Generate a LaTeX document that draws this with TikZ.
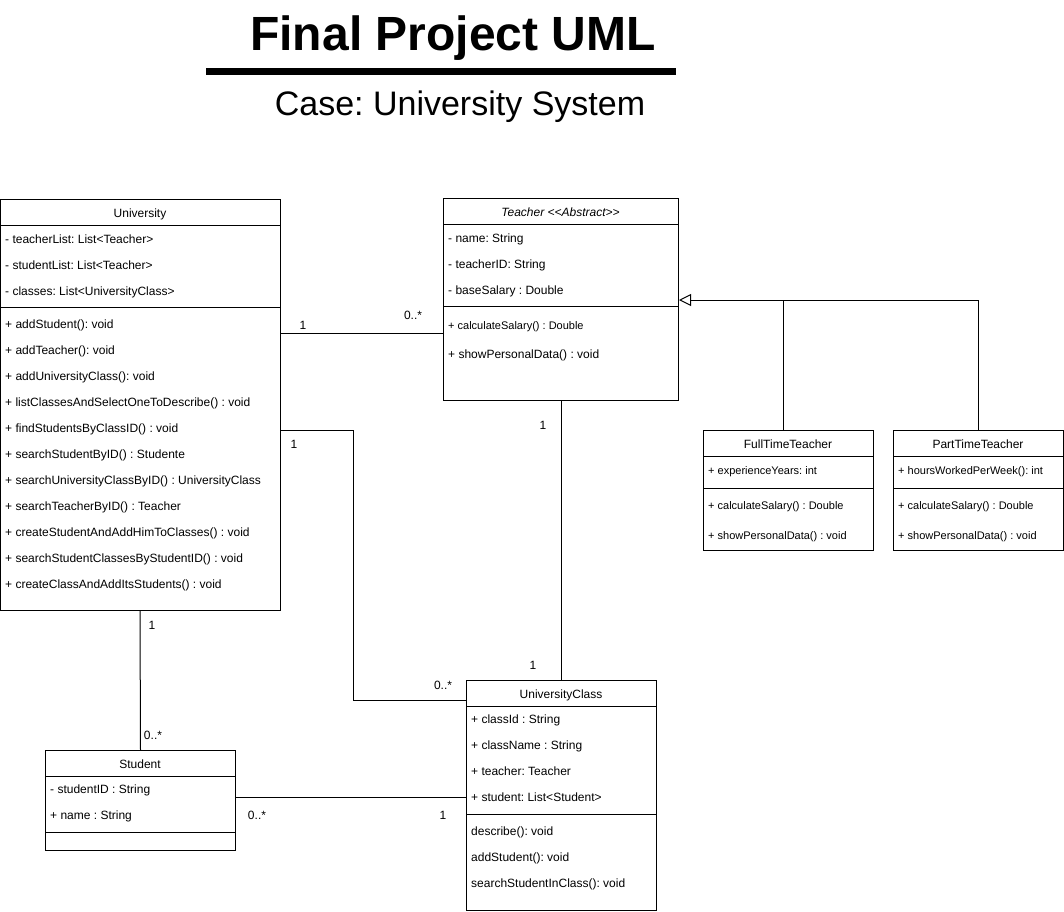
\documentclass[tikz,border=0pt]{standalone}
\usepackage{fontspec}
\setmainfont{Liberation Sans}
\usetikzlibrary{arrows.meta}
\newcommand\myfs[1]{\fontsize{#1}{#1}\selectfont}
\frenchspacing
\begin{document}
\begin{tikzpicture}[x=1pt,y=-1pt,
  box/.style={draw, line width=1pt, anchor=north west, inner sep=0pt},
  sep/.style={line width=1pt},
  mem/.style={anchor=base west, inner sep=0pt, font=\myfs{12}},
  memsm/.style={anchor=base west, inner sep=0pt, font=\myfs{11}},
  hdr/.style={anchor=base, inner sep=0pt, font=\myfs{12}},
  lbl/.style={anchor=base, inner sep=0pt, font=\myfs{12}},
  conn/.style={line width=1pt}]
\useasboundingbox (0,0) rectangle (1064,911);
\fill[white] (0,0) rectangle (1064,911);

% Title
\node[anchor=base, inner sep=0pt, font=\myfs{48}\bfseries] (title) at (453,50) {Final Project UML};
\draw[line width=7pt] (206,71) -- (676,71);
\node[anchor=base, inner sep=0pt, font=\myfs{34}] (subtitle) at (460,115) {Case: University System};

% University
\node[box, minimum width=280, minimum height=411] (univ) at (0,199) {};
\draw[sep] (0,225) -- (280,225);
\draw[sep] (0,307) -- (280,307);
\node[hdr] (univh) at (140,217) {University};
\node[mem] (u1) at (5,243) {- teacherList: List<Teacher>};
\node[mem] (u2) at (5,269) {- studentList: List<Teacher>};
\node[mem] (u3) at (5,295) {- classes: List<UniversityClass>};
\node[mem] (u4) at (5,328) {+ addStudent(): void};
\node[mem] (u5) at (5,354) {+ addTeacher(): void};
\node[mem] (u6) at (5,380) {+ addUniversityClass(): void};
\node[mem] (u7) at (5,406) {+ listClassesAndSelectOneToDescribe() : void};
\node[mem] (u8) at (5,432) {+ findStudentsByClassID() : void};
\node[mem] (u9) at (5,458) {+ searchStudentByID() : Studente};
\node[mem] (u10) at (5,484) {+ searchUniversityClassByID() : UniversityClass};
\node[mem] (u11) at (5,510) {+ searchTeacherByID() : Teacher};
\node[mem] (u12) at (5,536) {+ createStudentAndAddHimToClasses() : void};
\node[mem] (u13) at (5,562) {+ searchStudentClassesByStudentID() : void};
\node[mem] (u14) at (5,588) {+ createClassAndAddItsStudents() : void};

% Teacher
\node[box, minimum width=235, minimum height=202] (teach) at (443,198) {};
\draw[sep] (443,224) -- (678,224);
\draw[sep] (443,306) -- (678,306);
\node[hdr, font=\myfs{12}\itshape] (teachh) at (560.5,216) {Teacher <{}<Abstract>{}>};
\node[mem] (t1) at (448,242) {- name: String};
\node[mem] (t2) at (448,268) {- teacherID: String};
\node[mem] (t3) at (448,294) {- baseSalary : Double};
\node[memsm] (t4) at (448,329) {+ calculateSalary() : Double};
\node[mem] (t5) at (448,358) {+ showPersonalData() : void};

% FullTimeTeacher
\node[box, minimum width=170, minimum height=120] (ftt) at (703,430) {};
\draw[sep] (703,456) -- (873,456);
\draw[sep] (703,488) -- (873,488);
\node[hdr] (ftth) at (788,448) {FullTimeTeacher};
\node[memsm] (f1) at (708,474) {+ experienceYears: int};
\node[memsm] (f2) at (708,509) {+ calculateSalary() : Double};
\node[memsm] (f3) at (708,539) {+ showPersonalData() : void};

% PartTimeTeacher
\node[box, minimum width=170, minimum height=120] (ptt) at (893,430) {};
\draw[sep] (893,456) -- (1063,456);
\draw[sep] (893,488) -- (1063,488);
\node[hdr] (ptth) at (978,448) {PartTimeTeacher};
\node[memsm] (p1) at (898,474) {+ hoursWorkedPerWeek(): int};
\node[memsm] (p2) at (898,509) {+ calculateSalary() : Double};
\node[memsm] (p3) at (898,539) {+ showPersonalData() : void};

% UniversityClass
\node[box, minimum width=190, minimum height=230] (uc) at (466,680) {};
\draw[sep] (466,706) -- (656,706);
\draw[sep] (466,814) -- (656,814);
\node[hdr] (uch) at (561,698) {UniversityClass};
\node[mem] (c1) at (471,723) {+ classId : String};
\node[mem] (c2) at (471,749) {+ className : String};
\node[mem] (c3) at (471,775) {+ teacher: Teacher};
\node[mem] (c4) at (471,801) {+ student: List<Student>};
\node[mem] (c5) at (471,835) {describe(): void};
\node[mem] (c6) at (471,861) {addStudent(): void};
\node[mem] (c7) at (471,887) {searchStudentInClass(): void};

% Student
\node[box, minimum width=190, minimum height=100] (stu) at (45,750) {};
\draw[sep] (45,776) -- (235,776);
\draw[sep] (45,832) -- (235,832);
\node[hdr] (stuh) at (140,768) {Student};
\node[mem] (s1) at (50,793) {- studentID : String};
\node[mem] (s2) at (50,819) {+ name : String};

% Connectors
\coordinate (genj) at (783,300);
\draw[conn] (univ.east |- 0,333) -- (teach.west |- 0,333);
\node[lbl] (l1) at (303,329) {1};
\node[lbl] (l2) at (413,319) {0..*};

\draw[conn, -{Triangle[open, length=12pt, width=12pt]}] (genj |- ftt.north) -- (genj) -- (teach.east |- genj);
\draw[conn] (ptt.north) |- (genj);

\draw[conn] (teach.south -| 561,0) -- (uc.north -| 561,0);
\node[lbl] (l3) at (543,429) {1};
\node[lbl] (l4) at (533,669) {1};

\draw[conn] (univ.east |- 0,430) -| (353,700) -- (uc.west |- 0,700);
\node[lbl] (l5) at (294,448) {1};
\node[lbl] (l6) at (443,689) {0..*};

\draw[conn] (univ.south -| 140,0) -- (stu.north);
\node[lbl] (l7) at (152,629) {1};
\node[lbl] (l8) at (153,739) {0..*};

\draw[conn] (stu.east |- 0,797) -- (uc.west |- 0,797);
\node[lbl] (l9) at (257,819) {0..*};
\node[lbl] (l10) at (443,819) {1};
\end{tikzpicture}
\end{document}
